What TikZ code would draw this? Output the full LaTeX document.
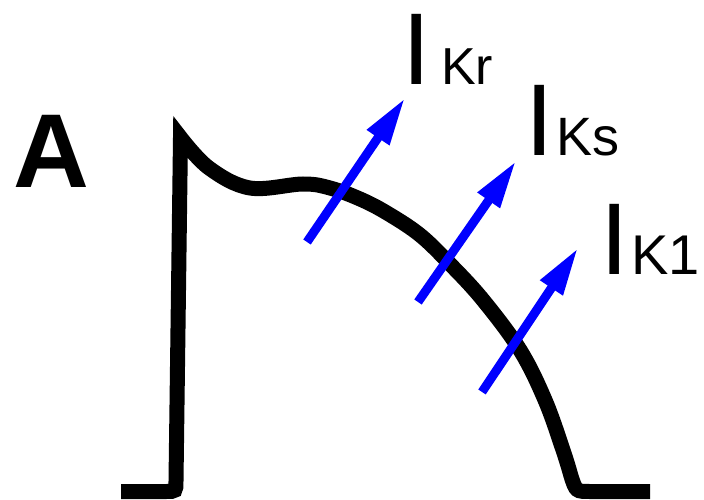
\documentclass[tikz,border=0pt]{standalone}
\usepackage{fontspec}
\setmainfont{Liberation Sans}
\usetikzlibrary{arrows.meta}

\begin{document}
\begin{tikzpicture}[x=1pt,y=-1pt,
    current/.style={draw=blue,line width=9pt,-{Triangle[length=48pt,width=25pt]}},
    lab/.style={anchor=base west,inner sep=0pt}]
    \useasboundingbox (0,0) rectangle (704,500);

    \node[lab,font=\fontsize{105}{105}\selectfont\bfseries] (panel) at (13,187) {A};

    % action potential
    \draw[line width=15pt,line join=miter] (121,491.5) -- (166,491.5) .. controls (176,491.5) .. (176,481)
        -- plot[smooth,tension=0.6] coordinates {(180.5,137.5) (209,168) (250,188) (303,184) (330,188)
            (360,199) (387,213) (420,235) (450,264) (483,300) (520,350) (545,400) (563,450) (571,476)}
        .. controls (576,491.5) .. (590,491.5) -- (650,491.5);

    \coordinate (krtail) at (307,242);
    \coordinate (krtip) at (405,98);
    \coordinate (kstail) at (418,302);
    \coordinate (kstip) at (516,161);
    \coordinate (konetail) at (482,392);
    \coordinate (konetip) at (578,248);

    \draw[current] (krtail) -- (krtip);
    \draw[current] (kstail) -- (kstip);
    \draw[current] (konetail) -- (konetip);

    \node[lab] (ikr) at (402.5,85) {\fontsize{102}{102}\selectfont I\hspace{10pt}\fontsize{52}{52}\selectfont Kr};
    \node[lab] (iks) at (525.5,155) {\fontsize{102}{102}\selectfont I\hspace{2pt}\fontsize{54}{54}\selectfont Ks};
    \node[lab] (ikone) at (600.5,274) {\fontsize{102}{102}\selectfont I\hspace{2pt}\fontsize{56}{56}\selectfont K1};
\end{tikzpicture}
\end{document}
